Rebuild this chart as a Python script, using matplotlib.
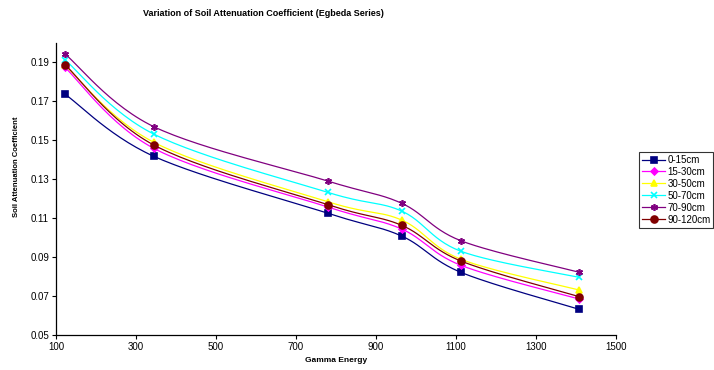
import matplotlib.pyplot as plt
import numpy as np

plt.rcParams['font.family'] = ['Liberation Sans', 'DejaVu Sans']

# Data
energy = [122, 344, 779, 964, 1112, 1408]
depths = ['0-15cm', '15-30cm', '30-50cm', '50-70cm', '70-90cm', '90-120cm']
d0_15 = [0.1737, 0.1418, 0.1126, 0.1009, 0.0823, 0.0633]
d15_30 = [0.1874, 0.1459, 0.1158, 0.1045, 0.0859, 0.0686]
d30_50 = [0.1884, 0.1490, 0.1185, 0.1091, 0.0890, 0.0732]
d50_70 = [0.1913, 0.1532, 0.1233, 0.1137, 0.0931, 0.0797]
d70_90 = [0.1943, 0.1570, 0.1291, 0.1177, 0.0985, 0.0823]
d90_120 = [0.1888, 0.1476, 0.1170, 0.1064, 0.0881, 0.0698]
series = [d0_15, d15_30, d30_50, d50_70, d70_90, d90_120]

colors = ['#000080', '#FF00FF', '#FFFF00', '#00FFFF', '#800080', '#800000']
markers = ['s', 'D', '^', 'x', (6, 2, 0), 'o']
msizes = [4.5, 3.5, 5, 4.5, 5, 5]


def smooth(x, y, n=30):
    # Excel-style smoothed line: cubic Bezier with Catmull-Rom control points
    x = np.asarray(x, float)
    y = np.asarray(y, float)
    xs, ys = [], []
    for i in range(len(x) - 1):
        p0 = (x[max(i - 1, 0)], y[max(i - 1, 0)])
        p1 = (x[i], y[i])
        p2 = (x[i + 1], y[i + 1])
        p3 = (x[min(i + 2, len(x) - 1)], y[min(i + 2, len(x) - 1)])
        c1 = (p1[0] + (p2[0] - p0[0]) / 6, p1[1] + (p2[1] - p0[1]) / 6)
        c2 = (p2[0] - (p3[0] - p1[0]) / 6, p2[1] - (p3[1] - p1[1]) / 6)
        t = np.linspace(0, 1, n)
        for k in range(2):
            P = [p1[k], c1[k], c2[k], p2[k]]
            v = ((1 - t) ** 3 * P[0] + 3 * (1 - t) ** 2 * t * P[1]
                 + 3 * (1 - t) * t ** 2 * P[2] + t ** 3 * P[3])
            (xs if k == 0 else ys).append(v)
    return np.concatenate(xs), np.concatenate(ys)


fig = plt.figure(figsize=(7.14, 3.70), dpi=100)
ax = fig.add_axes([56 / 714, 1 - 335.3 / 370, 560 / 714, (335.3 - 42.7) / 370])

handles = []
for vals, lab, c, m, ms in zip(series, depths, colors, markers, msizes):
    # scale y so the smoothing is done in roughly pixel space
    sx, sy = smooth(np.array(energy) * 0.4, np.array(vals) * 1950)
    ax.plot(sx / 0.4, sy / 1950, color=c, lw=0.9)
    ax.plot(energy, vals, ls='none', marker=m, color=c, ms=ms, mew=1.2)
    h, = ax.plot([], [], color=c, lw=0.9, marker=m, ms=ms, mew=1.2, label=lab)
    handles.append(h)

ax.set_xlim(100, 1500)
ax.set_ylim(0.05, 0.20)
ax.set_xticks(range(100, 1501, 200))
ax.set_yticks(np.arange(0.05, 0.191, 0.02))
ax.set_yticklabels([f'{v:.2f}' for v in np.arange(0.05, 0.191, 0.02)])
ax.tick_params(labelsize=7, length=3, width=0.8, direction='out', pad=2)
for s in ['top', 'right']:
    ax.spines[s].set_visible(False)
for s in ['left', 'bottom']:
    ax.spines[s].set_linewidth(0.9)

fig.text(263 / 714, 1 - 14 / 370, 'Variation of Soil Attenuation Coefficient (Egbeda Series)',
         ha='center', va='center', fontsize=6.5, fontweight='bold')
fig.text(336 / 714, 1 - 361 / 370, 'Gamma Energy', ha='center', va='center',
         fontsize=6, fontweight='bold')
fig.text(17 / 714, 1 - 167 / 370, 'Soil Attenuation Coefficient', ha='center', va='center',
         rotation=90, fontsize=5.5, fontweight='bold')

leg = fig.legend(handles=handles, loc='upper left', bbox_to_anchor=(639 / 714, 1 - 152 / 370),
                 fontsize=7, frameon=True, fancybox=False, borderpad=0.3, labelspacing=0.2,
                 handlelength=2.4, handletextpad=0.2, borderaxespad=0)
leg.get_frame().set_edgecolor('black')
leg.get_frame().set_linewidth(0.8)

fig.savefig('out.png', dpi=100)
